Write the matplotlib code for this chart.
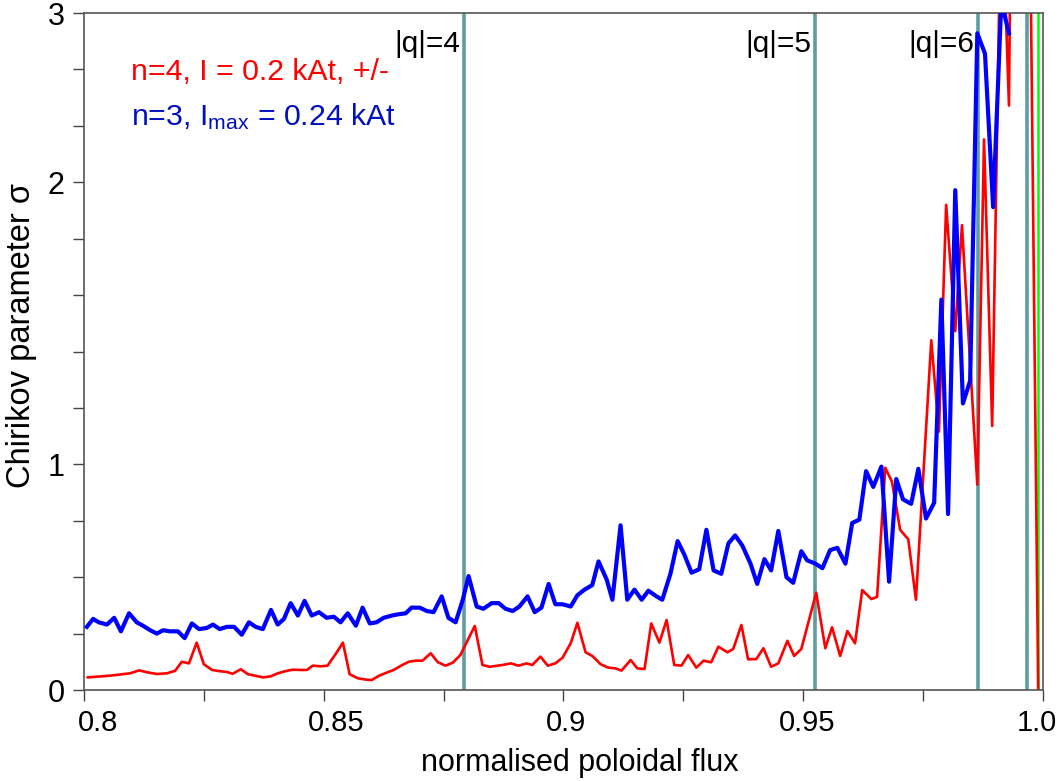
import matplotlib
matplotlib.use("Agg")
import matplotlib.pyplot as plt
from matplotlib.ticker import FixedLocator, FixedFormatter
from matplotlib.transforms import ScaledTranslation

plt.rcParams['font.family'] = ['Liberation Sans', 'DejaVu Sans']
plt.rcParams['mathtext.fontset'] = 'custom'
plt.rcParams['mathtext.rm'] = 'Liberation Sans'
plt.rcParams['mathtext.it'] = 'Liberation Sans:italic'

# ==========================================
# data
# ==========================================
# n=3 (blue)
psi_n3 = [0.8006, 0.8019, 0.8031, 0.8048, 0.8063, 0.8077, 0.8094, 0.8110, 0.8123, 0.8138,
          0.8152, 0.8165, 0.8179, 0.8196, 0.8210, 0.8225, 0.8240, 0.8256, 0.8269, 0.8283,
          0.8298, 0.8313, 0.8329, 0.8344, 0.8358, 0.8373, 0.8390, 0.8404, 0.8417, 0.8431,
          0.8446, 0.8460, 0.8475, 0.8490, 0.8506, 0.8521, 0.8535, 0.8550, 0.8567, 0.8581,
          0.8596, 0.8610, 0.8625, 0.8642, 0.8654, 0.8671, 0.8683, 0.8700, 0.8715, 0.8729,
          0.8746, 0.8760, 0.8775, 0.8790, 0.8802, 0.8819, 0.8833, 0.8850, 0.8865, 0.8879,
          0.8894, 0.8908, 0.8925, 0.8940, 0.8954, 0.8969, 0.8983, 0.8998, 0.9015, 0.9029,
          0.9044, 0.9060, 0.9073, 0.9090, 0.9102, 0.9119, 0.9133, 0.9148, 0.9163, 0.9177,
          0.9194, 0.9206, 0.9223, 0.9238, 0.9252, 0.9267, 0.9283, 0.9298, 0.9313, 0.9329,
          0.9344, 0.9358, 0.9373, 0.9390, 0.9404, 0.9419, 0.9433, 0.9448, 0.9465, 0.9479,
          0.9496, 0.9508, 0.9525, 0.9540, 0.9556, 0.9571, 0.9588, 0.9602, 0.9617, 0.9631,
          0.9646, 0.9663, 0.9679, 0.9694, 0.9708, 0.9725, 0.9740, 0.9756, 0.9773, 0.9788,
          0.9802, 0.9817, 0.9833, 0.9848, 0.9863, 0.9879, 0.9896, 0.9913, 0.9929]
sigma_n3 = [0.28, 0.315, 0.30, 0.29, 0.32, 0.26, 0.34, 0.30, 0.285, 0.265,
            0.25, 0.265, 0.26, 0.26, 0.23, 0.295, 0.27, 0.275, 0.29, 0.27,
            0.28, 0.28, 0.245, 0.30, 0.28, 0.27, 0.355, 0.29, 0.315, 0.385,
            0.33, 0.395, 0.33, 0.345, 0.32, 0.325, 0.30, 0.34, 0.285, 0.365,
            0.295, 0.30, 0.32, 0.33, 0.335, 0.34, 0.365, 0.365, 0.35, 0.345,
            0.415, 0.32, 0.30, 0.40, 0.505, 0.37, 0.36, 0.385, 0.385, 0.36,
            0.35, 0.37, 0.415, 0.345, 0.365, 0.47, 0.38, 0.38, 0.37, 0.42,
            0.445, 0.465, 0.57, 0.49, 0.40, 0.73, 0.40, 0.445, 0.40, 0.44,
            0.415, 0.40, 0.515, 0.66, 0.60, 0.52, 0.535, 0.71, 0.53, 0.515,
            0.65, 0.685, 0.64, 0.56, 0.47, 0.58, 0.53, 0.705, 0.50, 0.475,
            0.615, 0.575, 0.56, 0.54, 0.62, 0.63, 0.56, 0.74, 0.755, 0.97,
            0.90, 0.99, 0.48, 0.935, 0.845, 0.825, 0.98, 0.76, 0.83, 1.73,
            0.78, 2.215, 1.27, 1.37, 2.91, 2.82, 2.14, 3.05, 2.91]

# n=4 (red)
psi_n4 = [0.8008, 0.8052, 0.8096, 0.8115, 0.8133, 0.8152, 0.8173, 0.8190, 0.8204, 0.8219,
          0.8235, 0.8250, 0.8267, 0.8281, 0.8298, 0.8310, 0.8327, 0.8342, 0.8358, 0.8373,
          0.8390, 0.8404, 0.8421, 0.8435, 0.8450, 0.8465, 0.8477, 0.8494, 0.8508, 0.8525,
          0.8540, 0.8554, 0.8571, 0.8585, 0.8600, 0.8615, 0.8631, 0.8646, 0.8663, 0.8677,
          0.8692, 0.8706, 0.8723, 0.8738, 0.8754, 0.8769, 0.8785, 0.8800, 0.8815, 0.8831,
          0.8846, 0.8873, 0.8890, 0.8906, 0.8923, 0.8935, 0.8952, 0.8967, 0.8983, 0.8998,
          0.9015, 0.9029, 0.9046, 0.9060, 0.9077, 0.9092, 0.9108, 0.9121, 0.9140, 0.9154,
          0.9169, 0.9183, 0.9200, 0.9215, 0.9231, 0.9246, 0.9260, 0.9277, 0.9292, 0.9308,
          0.9323, 0.9342, 0.9354, 0.9371, 0.9385, 0.9402, 0.9417, 0.9433, 0.9448, 0.9467,
          0.9481, 0.9496, 0.9527, 0.9546, 0.9560, 0.9577, 0.9592, 0.9608, 0.9623, 0.9642,
          0.9654, 0.9671, 0.9685, 0.9702, 0.9719, 0.9735, 0.9767, 0.9783, 0.9798, 0.9817,
          0.9831, 0.9863, 0.9877, 0.9894, 0.9913, 0.9929, 0.9944, 0.9973, 0.9990]
sigma_n4 = [0.056, 0.063, 0.074, 0.087, 0.078, 0.071, 0.074, 0.085, 0.125, 0.118,
            0.21, 0.114, 0.089, 0.084, 0.08, 0.072, 0.092, 0.07, 0.063, 0.056,
            0.061, 0.074, 0.084, 0.09, 0.089, 0.089, 0.108, 0.105, 0.108, 0.16,
            0.21, 0.07, 0.052, 0.047, 0.044, 0.063, 0.077, 0.089, 0.11, 0.125,
            0.13, 0.13, 0.163, 0.123, 0.108, 0.121, 0.155, 0.22, 0.284, 0.111,
            0.103, 0.111, 0.118, 0.108, 0.118, 0.111, 0.148, 0.108, 0.118, 0.143,
            0.207, 0.298, 0.167, 0.151, 0.115, 0.10, 0.096, 0.086, 0.133, 0.096,
            0.093, 0.295, 0.21, 0.31, 0.111, 0.108, 0.155, 0.099, 0.13, 0.123,
            0.192, 0.167, 0.182, 0.288, 0.136, 0.137, 0.185, 0.103, 0.118, 0.218,
            0.151, 0.182, 0.431, 0.185, 0.278, 0.151, 0.261, 0.207, 0.443, 0.403,
            0.413, 0.985, 0.923, 0.71, 0.668, 0.40, 1.55, 1.145, 2.15, 1.59,
            2.06, 0.91, 2.44, 1.17, 3.6, 2.59, 6.0, 3.4, 0.0]

# rational surfaces
q_surf = [0.8792, 0.9525, 0.9865, 0.9966]
q_names = ['|q|=4', '|q|=5', '|q|=6']
psi_sep = 0.9989

x_ticks = [0.8 + 0.025 * k for k in range(9)]
x_labels = ['0.8', '', '0.85', '', '0.9', '', '0.95', '', '1.0']
y_ticks = [0.25 * k for k in range(13)]
y_labels = ['0', '', '', '', '1', '', '', '', '', '2', '', '', '3']

# ==========================================
# plot
# ==========================================
fig = plt.figure(figsize=(10.59, 7.81), dpi=100)
ax = fig.add_axes([0.0793, 0.1165, 0.9056, 0.8668])

for xq in q_surf:
    ax.axvline(xq, color='#5f9ea0', lw=2.6, zorder=1)
ax.axvline(psi_sep, color='#00ff00', lw=1.8, zorder=1)

ax.plot(psi_n4, sigma_n4, color='#ff0000', lw=1.9, zorder=2)
ax.plot(psi_n3, sigma_n3, color='#0000ff', lw=3.0, zorder=3)

ax.set_xlim(0.8, 1.0)
ax.set_ylim(0, 3)

ax.xaxis.set_major_locator(FixedLocator(x_ticks))
ax.xaxis.set_major_formatter(FixedFormatter(x_labels))
ax.yaxis.set_major_locator(FixedLocator(y_ticks))
ax.yaxis.set_major_formatter(FixedFormatter(y_labels))
ax.tick_params(direction='out', length=8, width=1.0, color='#444444', pad=6)
ax.tick_params(axis='x', labelsize=21)
ax.tick_params(axis='y', labelsize=22)

# the x labels sit a little off their ticks in the original
shift_px = [14, 0, 12, 0, 3, 0, 4, 0, -6]
for lbl, dx in zip(ax.get_xticklabels(), shift_px):
    lbl.set_transform(lbl.get_transform() +
                      ScaledTranslation(dx / 100, 0, fig.dpi_scale_trans))

for sp in ax.spines.values():
    sp.set_color('#555555')
    sp.set_linewidth(1.2)

ax.set_xlabel('normalised poloidal flux', fontsize=22, labelpad=5)
ax.xaxis.set_label_coords(0.517, -0.085)
fig.text(0.02, 0.571, 'Chirikov parameter σ', rotation=90, fontsize=23.5,
         ha='center', va='center')

for xq, name in zip(q_surf, q_names):
    ax.text(xq - 0.0008, 2.865, name, fontsize=21.5, ha='right', va='center')

ax.text(0.8099, 2.74, 'n=4, I = 0.2 kAt, +/-', color='#ff0000', fontsize=21.8,
        va='center')
ax.text(0.8099, 2.54, r'n=3, I$_\mathrm{max}$ = 0.24 kAt', color='#0010c0',
        fontsize=21.8, va='center')

plt.savefig('out.png', dpi=100)
